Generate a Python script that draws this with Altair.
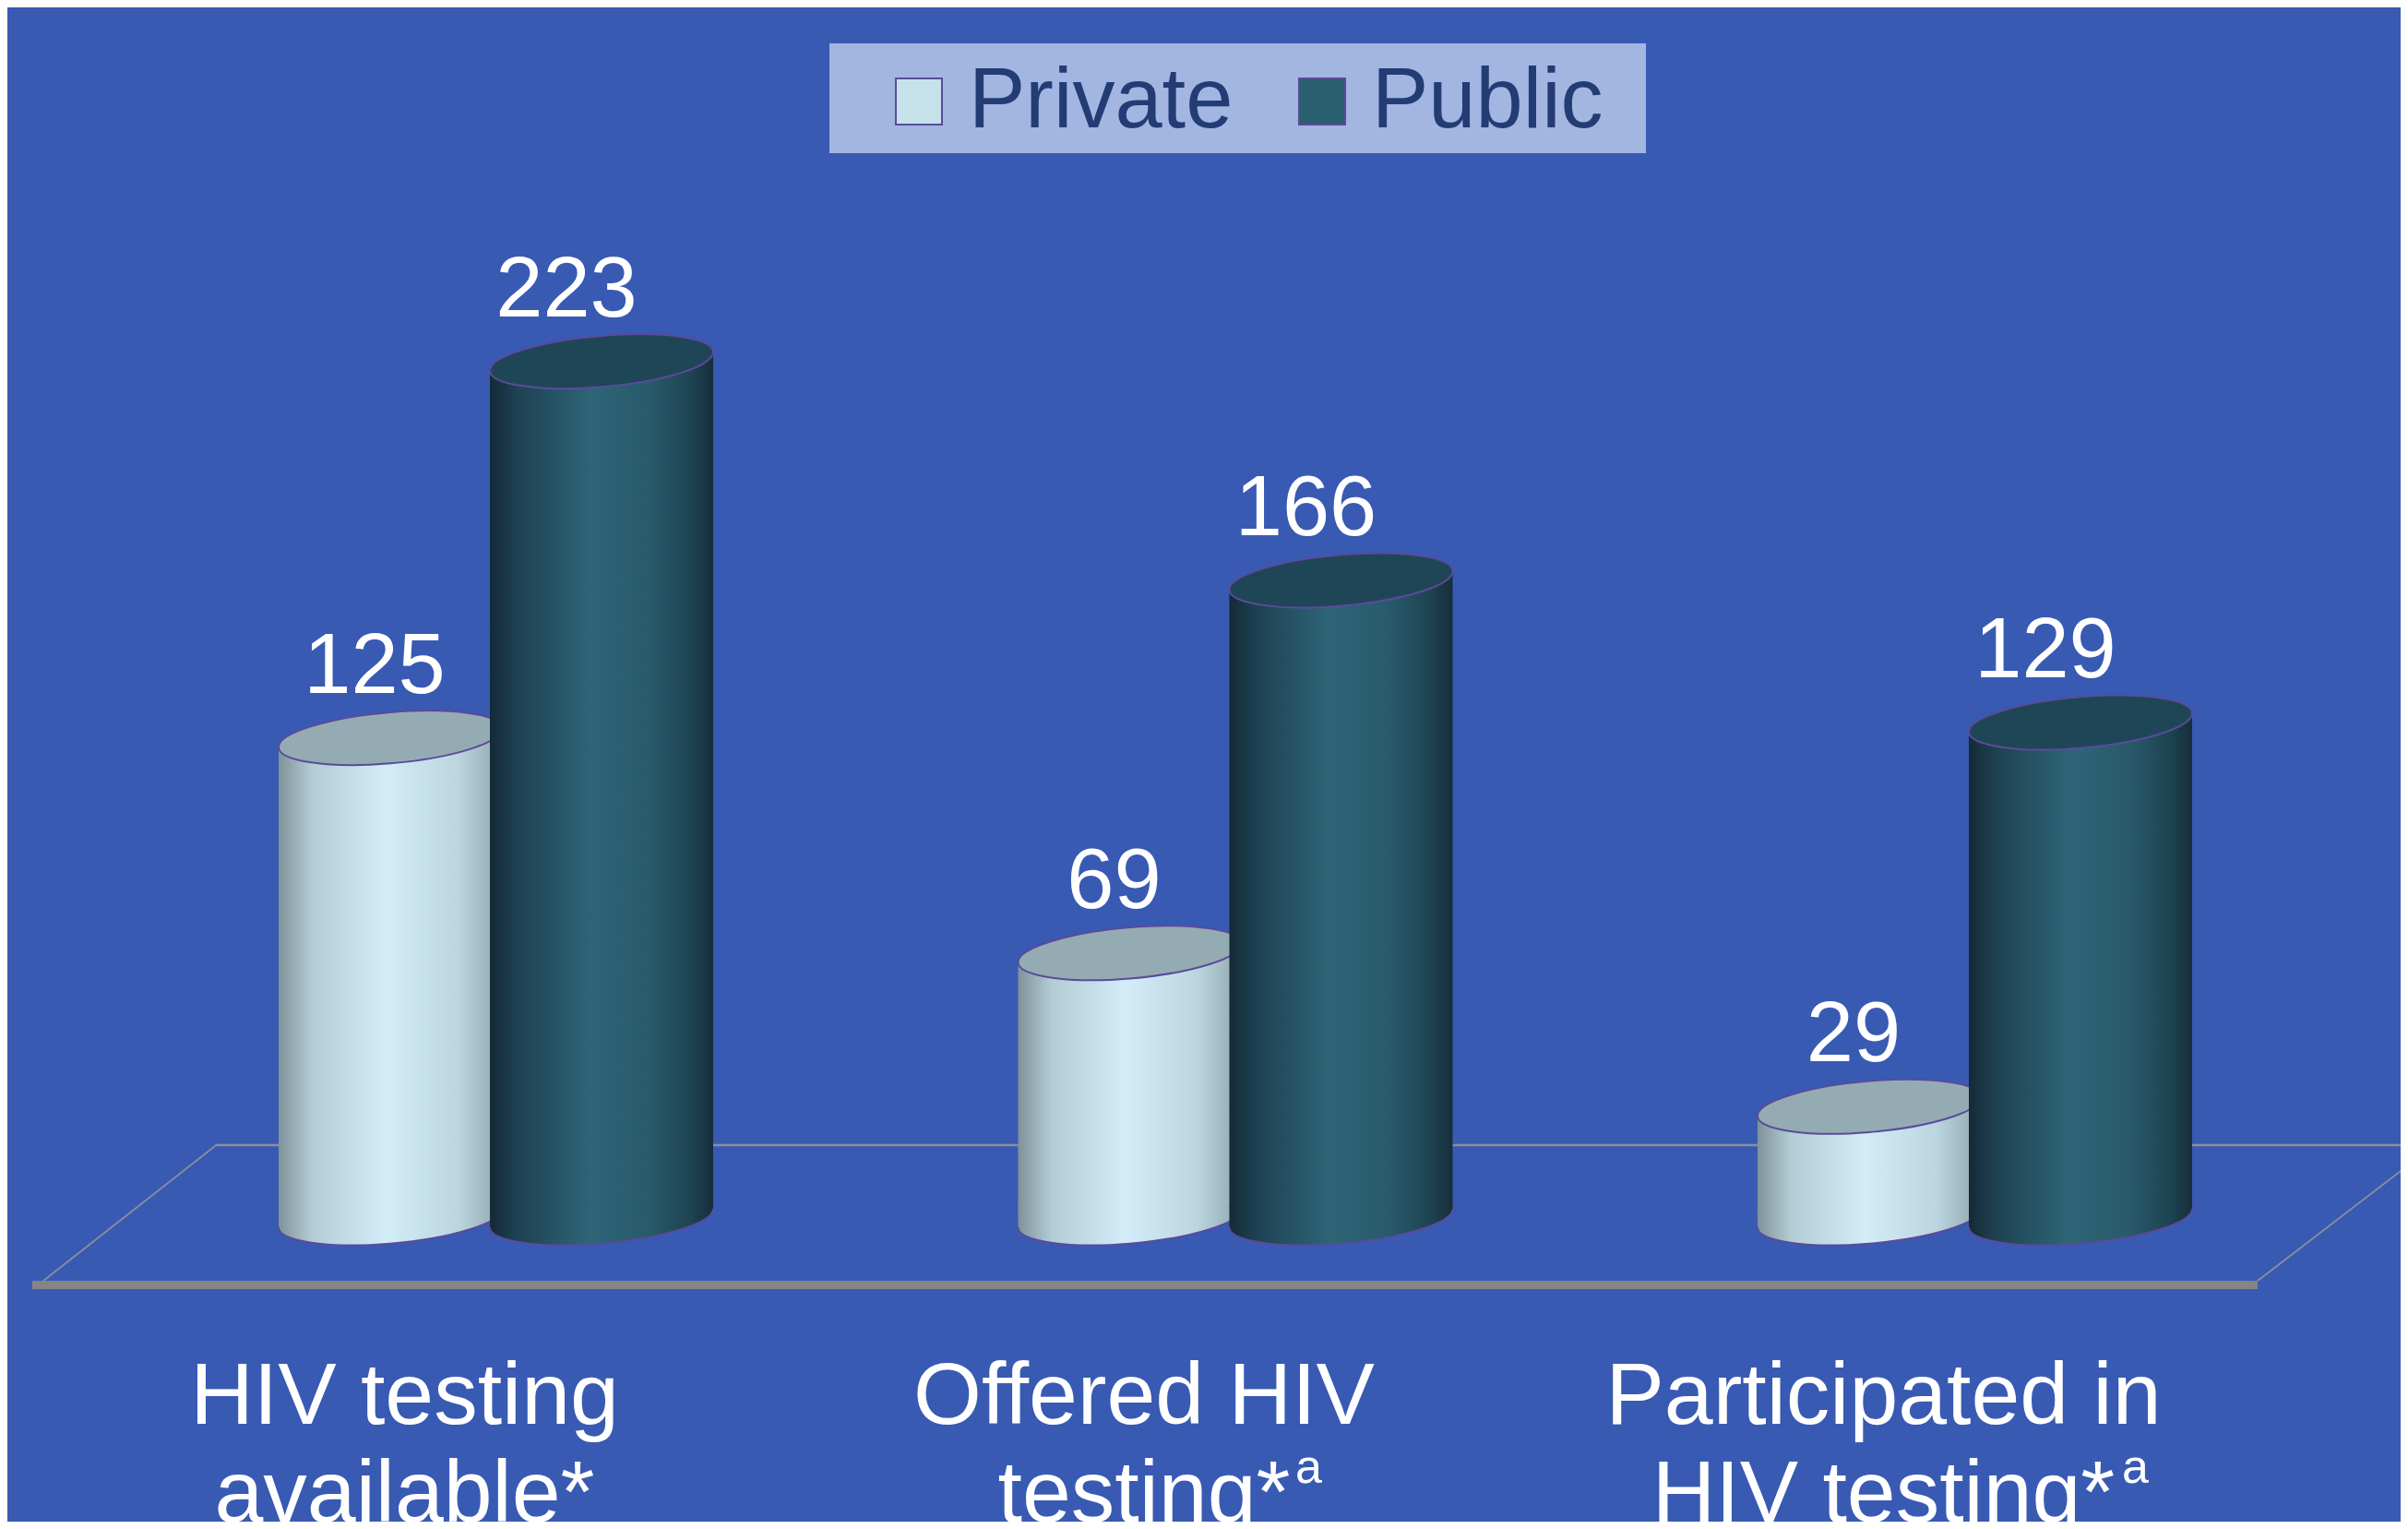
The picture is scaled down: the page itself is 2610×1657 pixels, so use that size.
import altair as alt
import pandas as pd

# ---------------- data ----------------
categories = ["HIV testing\navailable*", "Offered HIV\ntesting*", "Participated in\nHIV testing*"]
superscripts = ["", "a", "a"]
series = ["Private", "Public"]
private_values = [125, 69, 29]
public_values = [223, 166, 129]

rows = []
for c, p, q in zip(categories, private_values, public_values):
    rows.append({"category": c, "series": "Private", "value": p})
    rows.append({"category": c, "series": "Public", "value": q})
df = pd.DataFrame(rows)
sup_df = pd.DataFrame({"category": categories, "sup": superscripts})
one = pd.DataFrame({"k": [0]})

# ---------------- style ----------------
BG = "#385AB3"
FONT = "Liberation Sans"
W, H = 2594, 1641
STROKE = "#5B4A9B"
# slightly sheared ellipse (right side higher), unit half-width
ELLIPSE = ("M-1,0.083 C-1,-0.0434 -0.552,-0.1832 0,-0.229 "
           "C0.552,-0.2748 1,-0.2094 1,-0.083 "
           "C1,0.0434 0.552,0.1832 0,0.229 "
           "C-0.552,0.2748 -1,0.2094 -1,0.083 Z")
TOP_SKIRT = "M-1,0.083 L1,-0.083 L1,0.1 L-1,0.1 Z"
BOTTOM_SKIRT = "M-1,-0.1 L-1,0.083 L1,-0.083 L1,-0.1 Z"
CYL_W = 242
SYM_SIZE = CYL_W * CYL_W
SHEAR_PX = 10
LABEL_SIZE = 95
LABEL_SHIFT = -99
LINE_H = 106
# superscript x offsets from band centre (half width of the centred line + gap)
SUP_DX = [0, 65, 159.5]


def grad(stops):
    return {"gradient": "linear", "x1": 0, "x2": 1, "y1": 0, "y2": 0,
            "stops": [{"offset": o, "color": c} for o, c in stops]}


priv_grad = grad([(0, "#7F9399"), (0.15, "#B3CCD5"), (0.48, "#D2EDF8"),
                  (0.8, "#BCD6E0"), (1, "#8FA5AD")])
pub_grad = grad([(0, "#142A37"), (0.12, "#1E4152"), (0.45, "#2D6577"),
                 (0.72, "#285A6B"), (0.9, "#1E4352"), (1, "#162E3B")])

x_enc = alt.X(
    "category:N", sort=categories, title=None,
    scale=alt.Scale(range=[128.75, 2533.25], paddingInner=0, paddingOuter=0),
    axis=alt.Axis(orient="bottom", offset=-200, domain=False, ticks=False, tickSize=0,
                  labelPadding=18, labelAngle=0, labelFontSize=LABEL_SIZE, labelFont=FONT,
                  labelColor="white", labelLineHeight=LINE_H, labelOffset=LABEL_SHIFT,
                  labelExpr="split(datum.label, '\\n')", labelOverlap=False,
                  labelBound=False, labelFlush=False, labelLimit=0, grid=False),
)
y_scale = alt.Scale(domain=[0, 300], range=[1312, 63.1])
y_enc = alt.Y("value:Q", scale=y_scale, axis=None)
y0_enc = alt.Y("base0:Q", scale=y_scale, axis=None)
y2_enc = alt.Y2("base0:Q")
xoff = alt.XOffset("series:N", scale=alt.Scale(domain=series, paddingInner=0, paddingOuter=0.75))

# ---------------- floor & legend box (decoration) ----------------
floor_back = alt.Chart(one).mark_rule(color="#8A8F9C", strokeWidth=2.5).encode(
    x=alt.value(225), x2=alt.value(2602), y=alt.value(1233))
floor_left = alt.Chart(one).mark_rule(color="#8A8F9C", strokeWidth=1.8).encode(
    x=alt.value(225), y=alt.value(1234), x2=alt.value(39), y2=alt.value(1380))
floor_right = alt.Chart(one).mark_rule(color="#8A8F9C", strokeWidth=1.8).encode(
    x=alt.value(2602), y=alt.value(1255), x2=alt.value(2439), y2=alt.value(1380))
floor_front = alt.Chart(one).mark_rect(color="#858585").encode(
    x=alt.value(27), x2=alt.value(2439), y=alt.value(1380), y2=alt.value(1389))
legend_box = alt.Chart(one).mark_rect(color="#A3B5E1").encode(
    x=alt.value(891), x2=alt.value(1776), y=alt.value(39), y2=alt.value(158))


def cylinder(s, body_grad, top_fill, dx):
    base = alt.Chart(df).transform_filter(alt.datum.series == s).transform_calculate(base0="0")
    sym = dict(size=SYM_SIZE, filled=True, opacity=1)
    bottom = base.mark_point(shape=ELLIPSE, fill=body_grad, stroke=STROKE, strokeWidth=2,
                             **sym).encode(x=x_enc, xOffset=xoff, y=y0_enc)
    bottom_skirt = base.mark_point(shape=BOTTOM_SKIRT, fill=body_grad, strokeWidth=0,
                                   **sym).encode(x=x_enc, xOffset=xoff, y=y0_enc)
    body = base.mark_bar(width=CYL_W, fill=body_grad, opacity=1, strokeWidth=0,
                         yOffset=SHEAR_PX, y2Offset=-SHEAR_PX).encode(
        x=x_enc, xOffset=xoff, y=y_enc, y2=y2_enc)
    top_skirt = base.mark_point(shape=TOP_SKIRT, fill=body_grad, strokeWidth=0,
                                **sym).encode(x=x_enc, xOffset=xoff, y=y_enc)
    top = base.mark_point(shape=ELLIPSE, fill=top_fill, stroke=STROKE, strokeWidth=2,
                          **sym).encode(x=x_enc, xOffset=xoff, y=y_enc)
    label = base.mark_text(fontSize=92, font=FONT, color="white", dy=-49, dx=dx,
                           baseline="alphabetic").encode(
        x=x_enc, xOffset=xoff, y=y_enc, text="value:Q")
    return [bottom, bottom_skirt, body, top_skirt, top], label


priv_layers, priv_label = cylinder("Private", priv_grad, "#95ABB3", -17)
pub_layers, pub_label = cylinder("Public", pub_grad, "#1F4657", -38)

# superscript "a" after the second line of two category labels
sup_layers = []
for cat, sup, dx in zip(categories, superscripts, SUP_DX):
    if not sup:
        continue
    sup_layers.append(
        alt.Chart(sup_df).transform_filter(alt.datum.category == cat)
        .mark_text(fontSize=52, font=FONT, color="white", align="left",
                   baseline="alphabetic", dx=dx)
        .encode(x=x_enc, y=alt.value(1599), text="sup:N")
    )

legend_layer = alt.Chart(df).mark_point(filled=True, opacity=0, shape="square").encode(
    x=x_enc, xOffset=xoff, y=y_enc,
    color=alt.Color("series:N",
                    scale=alt.Scale(domain=series, range=["#C5E2EA", "#2A5F6F"]),
                    legend=alt.Legend(title=None, orient="none", legendX=942, legendY=56,
                                      direction="horizontal", symbolType="square",
                                      symbolSize=2500, symbolStrokeColor=STROKE,
                                      symbolStrokeWidth=2, symbolOpacity=1,
                                      labelFontSize=92, labelFont=FONT,
                                      labelColor="#243C74", labelOffset=8,
                                      columnPadding=50, padding=0, labelLimit=0)),
)

chart = alt.layer(
    floor_back, floor_left, floor_right, floor_front, legend_box,
    *priv_layers, *pub_layers, priv_label, pub_label, *sup_layers, legend_layer,
).properties(
    width=W, height=H, background=BG, padding=0,
    autosize=alt.AutoSizeParams(type="none"),
).configure_view(stroke=None)

chart.save("out.html", embed_options={"renderer": "svg", "actions": False})
